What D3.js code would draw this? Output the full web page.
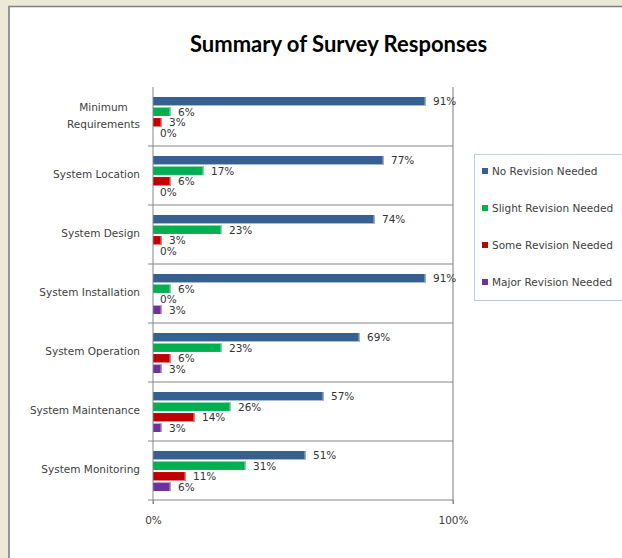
<!DOCTYPE html>
<html>
<head>
<meta charset="utf-8">
<script src="https://cdn.jsdelivr.net/npm/d3@7"></script>
<style>
  html, body { margin: 0; padding: 0; background: #ECE9D8; }
  svg { display: block; }
</style>
</head>
<body>
<svg id="chart" width="622" height="558"></svg>
<script>
// Survey categories (top to bottom)
const categories = [
  "Minimum Requirements",
  "System Location",
  "System Design",
  "System Installation",
  "System Operation",
  "System Maintenance",
  "System Monitoring"
];
// Wrapped label lines per category
const categoryLines = [
  ["Minimum", "Requirements"],
  ["System Location"],
  ["System Design"],
  ["System Installation"],
  ["System Operation"],
  ["System Maintenance"],
  ["System Monitoring"]
];

const seriesNames = [
  "No Revision Needed",
  "Slight Revision Needed",
  "Some Revision Needed",
  "Major Revision Needed"
];
const seriesColors = ["#376092", "#00B050", "#C00000", "#7030A0"];

// Share of responses (%) for each category
const noRevision     = [91, 77, 74, 91, 69, 57, 51];
const slightRevision = [6, 17, 23, 6, 23, 26, 31];
const someRevision   = [3, 6, 3, 0, 6, 14, 11];
const majorRevision  = [0, 0, 0, 3, 3, 3, 6];
const seriesValues = [noRevision, slightRevision, someRevision, majorRevision];

const xTicks = [0, 100];
const title = "Summary of Survey Responses";

const svg = d3.select("#chart");
const W = 622, H = 558;

// Chart frame
svg.append("rect").attr("x", 9).attr("y", 6.5).attr("width", W).attr("height", H)
  .attr("fill", "#ffffff");
svg.append("path").attr("d", `M9,${H} V6.5 H${W}`)
  .attr("fill", "none").attr("stroke", "#7f7f7f").attr("stroke-width", 1.6);

// Title
svg.append("text")
  .attr("x", 338.5).attr("y", 52)
  .attr("text-anchor", "middle")
  .style("font-family", "Lato, 'Open Sans', sans-serif")
  .style("font-weight", "bold")
  .style("font-size", "22px")
  .attr("fill", "#000")
  .text(title);

const plot = { left: 153, right: 453, top: 87, bottom: 500 };

const x = d3.scaleLinear().domain([0, 100]).range([plot.left, plot.right]);
const y = d3.scaleBand().domain(categories).range([plot.top, plot.bottom]);
const ys = d3.scaleBand().domain(seriesNames).range([10, 50]).paddingInner(0.2);

const labelFont = "'DejaVu Sans', Verdana, sans-serif";

// Right-hand gridline at 100%
svg.append("line")
  .attr("x1", x(100)).attr("x2", x(100))
  .attr("y1", plot.top).attr("y2", plot.bottom + 4)
  .attr("stroke", "#BFBFBF").attr("stroke-width", 2);

// Category separators with tick marks left of the axis
const boundaries = categories.slice(1).map(c => y(c)).concat([plot.bottom]);
svg.append("g").selectAll("line").data(boundaries).join("line")
  .attr("x1", plot.left - 5).attr("x2", plot.right)
  .attr("y1", d => d).attr("y2", d => d)
  .attr("stroke", "#868686").attr("stroke-width", 1);

// Bars
const groups = svg.append("g").selectAll("g").data(categories).join("g")
  .attr("transform", c => `translate(0,${y(c)})`);

groups.each(function (c, ci) {
  const g = d3.select(this);
  seriesNames.forEach((s, si) => {
    const v = seriesValues[si][ci];
    const col = seriesColors[si];
    const by = ys(s);
    const bh = ys.bandwidth();
    if (v > 0) {
      g.append("rect")
        .attr("x", x(0)).attr("y", by)
        .attr("width", x(v) - x(0)).attr("height", bh)
        .attr("fill", col);
      g.append("rect")
        .attr("x", x(v) - 1.5).attr("y", by)
        .attr("width", 1.5).attr("height", bh)
        .attr("fill", d3.interpolateRgb(col, "#ffffff")(0.5));
    }
    g.append("text")
      .attr("x", x(v) + 7).attr("y", by + bh / 2)
      .attr("dy", "0.36em")
      .style("font-family", labelFont)
      .style("font-size", "10.5px")
      .attr("fill", "#333")
      .text(v + "%");
  });
});

// Vertical axis line
svg.append("line")
  .attr("x1", plot.left).attr("x2", plot.left)
  .attr("y1", plot.top).attr("y2", plot.bottom + 4)
  .attr("stroke", "#868686").attr("stroke-width", 1);

// Category labels
categories.forEach((c, ci) => {
  const lines = categoryLines[ci];
  const cy = y(c) + y.bandwidth() / 2;
  const lh = 17;
  const t = svg.append("text")
    .style("font-family", labelFont)
    .style("font-size", "10.5px")
    .attr("fill", "#404040");
  lines.forEach((ln, li) => {
    t.append("tspan")
      .attr("y", cy - 1 + (li - (lines.length - 1) / 2) * lh)
      .attr("dy", "0.36em")
      .text(ln);
  });
  // Right-align the block, centring lines on each other
  const widths = [];
  t.selectAll("tspan").each(function () { widths.push(this.getComputedTextLength()); });
  const maxW = d3.max(widths);
  t.attr("text-anchor", "middle");
  t.selectAll("tspan").attr("x", 140 - maxW / 2);
});

// Bottom axis tick labels
const xAxis = d3.axisBottom(x).tickValues(xTicks).tickSize(4).tickFormat(d => d + "%");
const ax = svg.append("g").attr("transform", `translate(0,${plot.bottom})`).call(xAxis);
ax.select(".domain").remove();
ax.selectAll(".tick line").attr("stroke", "#868686");
ax.selectAll(".tick text")
  .attr("y", 17)
  .style("font-family", labelFont)
  .style("font-size", "10.5px")
  .attr("fill", "#404040");

// Legend
const legend = svg.append("g");
legend.append("rect")
  .attr("x", 474.5).attr("y", 154.5).attr("width", 200).attr("height", 146)
  .attr("fill", "#fff").attr("stroke", "#B9CDE5").attr("stroke-width", 1);
seriesNames.forEach((s, i) => {
  const cy = 171 + i * 37;
  legend.append("rect")
    .attr("x", 482).attr("y", cy - 3).attr("width", 6).attr("height", 6)
    .attr("fill", seriesColors[i]);
  legend.append("text")
    .attr("x", 492).attr("y", cy).attr("dy", "0.36em")
    .style("font-family", labelFont)
    .style("font-size", "10.5px")
    .attr("fill", "#404040")
    .text(s);
});
</script>
</body>
</html>
